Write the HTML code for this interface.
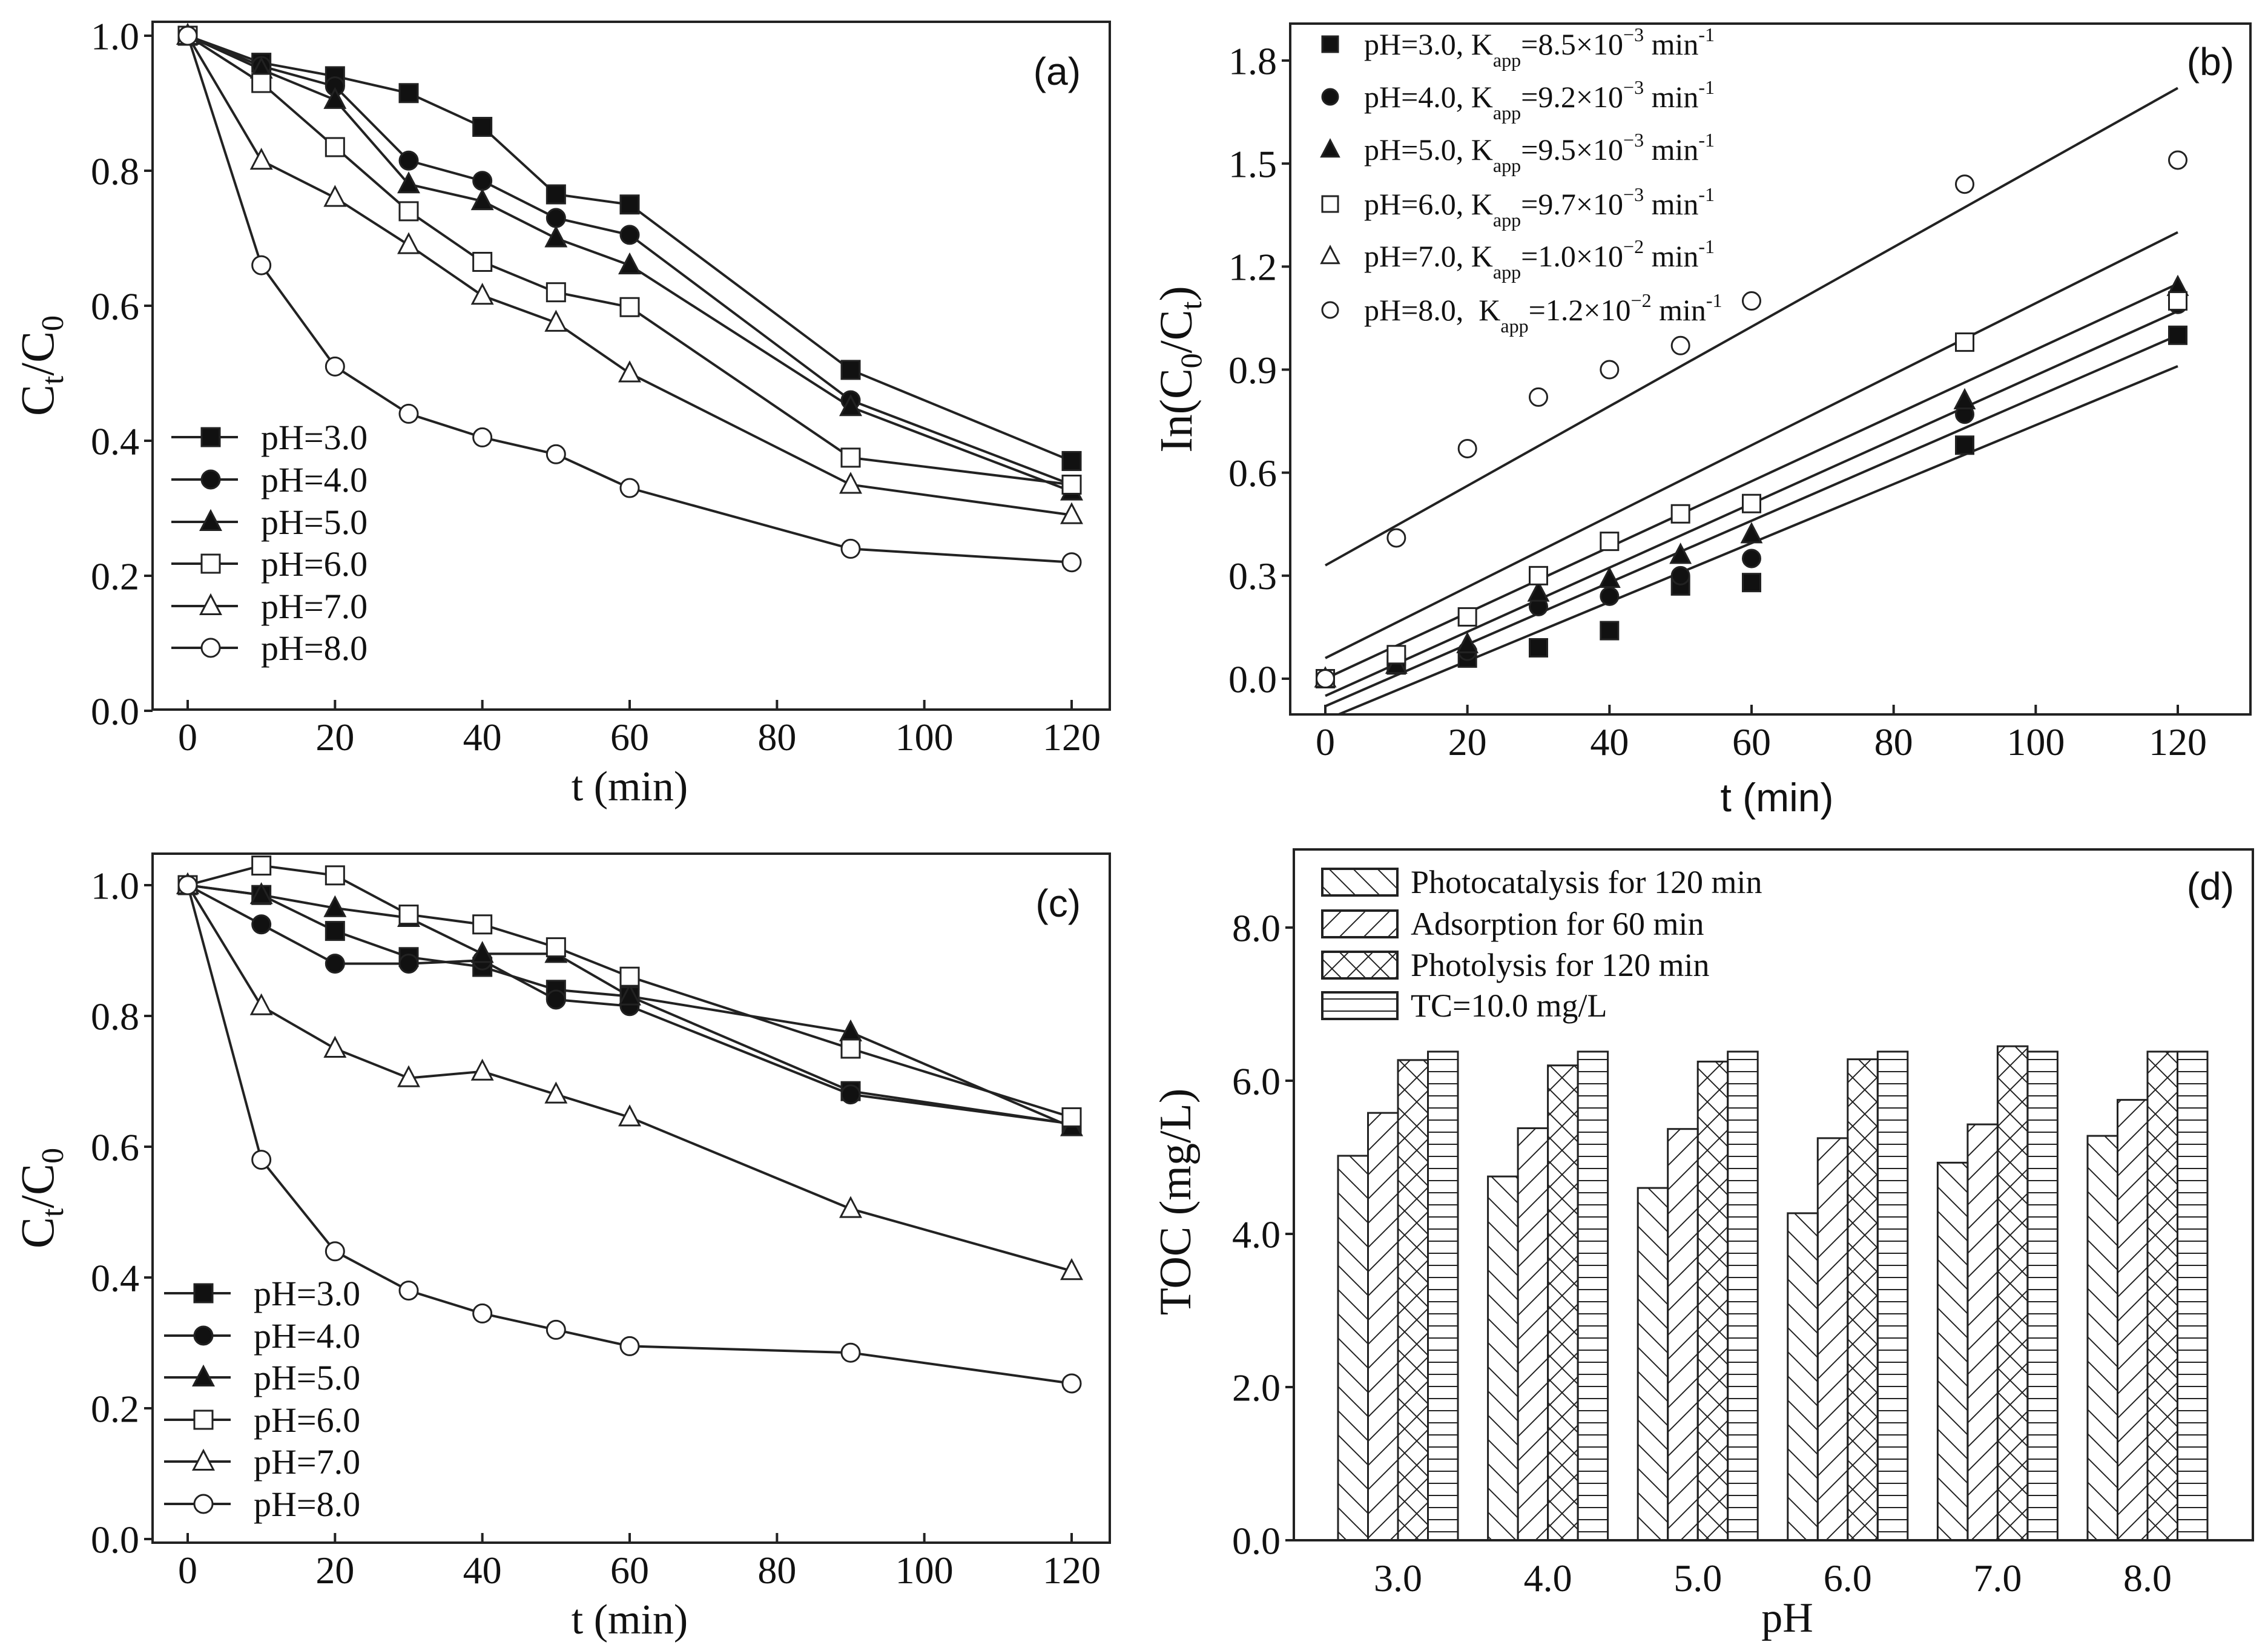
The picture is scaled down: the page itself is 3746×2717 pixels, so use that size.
<!DOCTYPE html>
<html><head><meta charset="utf-8"><style>
html,body{margin:0;padding:0;background:#fff;}
svg{display:block;}
text{font-family:"Liberation Serif",serif;fill:#111;}
.sans{font-family:"Liberation Sans",sans-serif;}
</style></head><body>
<svg id="fig" width="3746" height="2717" viewBox="0 0 3746 2717" xmlns="http://www.w3.org/2000/svg">
<defs>
<pattern id="hBack" patternUnits="userSpaceOnUse" width="40" height="40"><path d="M-10,-10 L50,50 M-10,30 L10,50 M30,-10 L50,10" stroke="#222" stroke-width="2"/></pattern>
<pattern id="hFwd" patternUnits="userSpaceOnUse" width="40" height="40"><path d="M-10,50 L50,-10 M-10,10 L10,-10 M30,50 L50,30" stroke="#222" stroke-width="2"/></pattern>
<pattern id="hCross" patternUnits="userSpaceOnUse" width="40" height="40"><path d="M-10,-10 L50,50 M-10,30 L10,50 M30,-10 L50,10 M-10,50 L50,-10 M-10,10 L10,-10 M30,50 L50,30" stroke="#222" stroke-width="2"/></pattern>
<pattern id="hHor" patternUnits="userSpaceOnUse" width="40" height="20"><path d="M0,10 L40,10" stroke="#222" stroke-width="2"/></pattern>
</defs>
</svg>
<script>
// ---------- data ----------
const times = [0,10,20,30,40,50,60,90,120];
const seriesNames = ["pH=3.0","pH=4.0","pH=5.0","pH=6.0","pH=7.0","pH=8.0"];
const aPH3 = [1,0.96,0.94,0.915,0.865,0.765,0.75,0.505,0.37];
const aPH4 = [1,0.955,0.925,0.815,0.785,0.73,0.705,0.46,0.335];
const aPH5 = [1,0.95,0.905,0.78,0.755,0.70,0.66,0.45,0.325];
const aPH6 = [1,0.93,0.835,0.74,0.665,0.62,0.598,0.375,0.335];
const aPH7 = [1,0.815,0.76,0.69,0.615,0.575,0.50,0.335,0.29];
const aPH8 = [1,0.66,0.51,0.44,0.405,0.38,0.33,0.24,0.22];
const cPH3 = [1,0.985,0.93,0.89,0.875,0.84,0.83,0.685,0.635];
const cPH4 = [1,0.94,0.88,0.88,0.885,0.825,0.815,0.68,0.635];
const cPH5 = [1,0.985,0.965,0.95,0.895,0.895,0.83,0.775,0.63];
const cPH6 = [1,1.03,1.015,0.955,0.94,0.905,0.86,0.75,0.645];
const cPH7 = [1,0.815,0.75,0.705,0.715,0.68,0.645,0.505,0.41];
const cPH8 = [1,0.58,0.44,0.38,0.345,0.32,0.295,0.285,0.238];
const bPH3 = [0,0.04,0.06,0.09,0.14,0.27,0.28,0.68,1.0];
const bPH4 = [0,0.04,0.08,0.21,0.24,0.30,0.35,0.77,1.09];
const bPH5 = [0,0.04,0.10,0.25,0.29,0.36,0.42,0.81,1.14];
const bPH6 = [0,0.07,0.18,0.30,0.40,0.48,0.51,0.98,1.10];
const bPH7 = [0];
const bPH8 = [0,0.41,0.67,0.82,0.90,0.97,1.10,1.44,1.51];
const fitStart = [0.33,0.06,0.0,-0.05,-0.08,-0.12];
const fitEnd = [1.72,1.30,1.15,1.07,1.0,0.91];
const kLabels = ["8.5×10","9.2×10","9.5×10","9.7×10","1.0×10","1.2×10"];
const kExp = ["−3","−3","−3","−3","−2","−2"];
const phCats = ["3.0","4.0","5.0","6.0","7.0","8.0"];
const tocPhotocat = [5.02,4.75,4.60,4.27,4.93,5.28];
const tocAdsorp = [5.58,5.38,5.37,5.25,5.43,5.75];
const tocPhotolysis = [6.27,6.20,6.25,6.28,6.45,6.38];
const tocTC = [6.38,6.38,6.38,6.38,6.38,6.38];
const barNames = ["Photocatalysis for 120 min","Adsorption for 60 min","Photolysis for 120 min","TC=10.0 mg/L"];
const tTicks = [0,20,40,60,80,100,120];
const ctTicks = [0,0.2,0.4,0.6,0.8,1.0];
const lnTicks = [0,0.3,0.6,0.9,1.2,1.5,1.8];
const tocTicks = [0,2,4,6,8];

const svg = document.getElementById('fig');
const NS = 'http://www.w3.org/2000/svg';
function el(tag, attrs, parent){ const e=document.createElementNS(NS,tag); for(const k in attrs) e.setAttribute(k,attrs[k]); (parent||svg).appendChild(e); return e; }
function txt(s, attrs, parent){ const e=el('text',attrs,parent); e.textContent=s; return e; }
function lin(x0,x1,p0,p1){ return v => p0+(v-x0)*(p1-p0)/(x1-x0); }
const shapes = ['square','circle','triangle','square','triangle','circle'];
const fills = ['#111','#111','#111','#fff','#fff','#fff'];
function marker(g, shape, fill, x, y, s){
  let m;
  if(shape==='square') m=el('rect',{x:x-s/2,y:y-s/2,width:s,height:s,fill:fill,stroke:'#222','stroke-width':3},g);
  else if(shape==='circle') m=el('ellipse',{cx:x,cy:y,rx:s/2,ry:s/2,fill:fill,stroke:'#222','stroke-width':3},g);
  else m=el('polygon',{points:`${x},${y-s*0.6} ${x-s*0.55},${y+s*0.45} ${x+s*0.55},${y+s*0.45}`,fill:fill,stroke:'#222','stroke-width':3},g);
  
  
  return m;
}
function frame(g, x0,y0,x1,y1){
  const r=el('rect',{x:x0,y:y0,width:x1-x0,height:y1-y0,fill:'none',stroke:'#222','stroke-width':4},g);
  
  
}
function yAxis(g, ticks, ys, fx, fmt, fs){
  ticks.forEach(v=>{ const y=ys(v);
    el('line',{x1:fx-14,y1:y,x2:fx,y2:y,stroke:'#222','stroke-width':4},g);
    const t=txt(fmt(v),{x:fx-22,y:y+fs*0.35,'text-anchor':'end','font-size':fs},g);
    
    
  });
}
function xAxisT(g, xs, fy, fs){
  tTicks.forEach(v=>{ const x=xs(v);
    el('line',{x1:x,y1:fy,x2:x,y2:fy-16,stroke:'#222','stroke-width':4},g);
    const t=txt(String(v),{x:x,y:fy+fs*1.05,'text-anchor':'middle','font-size':fs},g);
    
    
  });
}

// ---------- line panels (a) and (c) ----------
function linePanel(name, seriesArr, top, bottom, y1v, y0v, label, legendYs, legX){
  const g=el('g',{});  
  const xs=lin(0,120,310,1770), ys=lin(0,1,y0v,y1v);
  frame(g,252,top,1833,bottom);
  yAxis(g,ctTicks,ys,252,v=>v.toFixed(1),64);
  xAxisT(g,xs,bottom,64);
  seriesArr.forEach((vals,i)=>{
    const sg=el('g',{},g);  
    const pts=vals.map((v,j)=>xs(times[j])+','+ys(v)).join(' ');
    const pl=el('polyline',{points:pts,fill:'none',stroke:'#222','stroke-width':4},sg);
     
  });
  seriesArr.forEach((vals,i)=>{
    vals.forEach((v,j)=>marker(g,shapes[i],fills[i],xs(times[j]),ys(v),30)); });
  // legend
  const lg=el('g',{},g);  
  seriesNames.forEach((n,i)=>{ const y=legendYs[i];
    const e=el('g',{},lg);  
    el('line',{x1:legX,y1:y,x2:legX+110,y2:y,stroke:'#222','stroke-width':4},e);
    marker(e,shapes[i],fills[i],legX+65,y,30);
    txt(n,{x:legX+148,y:y+20,'font-size':58},e);
  });
  const pl=txt(label,{x:1785,y:top+104,'text-anchor':'end','font-size':64,class:'sans'},g);
   
  const yt=el('text',{transform:`translate(88,${(top+bottom)/2}) rotate(-90)`,'text-anchor':'middle','font-size':78},g);
  yt.innerHTML='C<tspan dy="16" font-size="52">t</tspan><tspan dy="-16">/C</tspan><tspan dy="16" font-size="52">0</tspan>';
   
  const xt=txt('t (min)',{x:1040,y:bottom+150,'text-anchor':'middle','font-size':70},g);
   
}
linePanel('panel-a',[aPH3,aPH4,aPH5,aPH6,aPH7,aPH8],36,1172,59,1174,'(a)',[722,792,862,931,1001,1070],283);
linePanel('panel-c',[cPH3,cPH4,cPH5,cPH6,cPH7,cPH8],1410,2548,1462,2542,'(c)',[2136,2206,2275,2345,2414,2484],271);

// ---------- panel (b) ----------
(function(){
  const g=el('g',{});  
  const xs=lin(0,120,2189,3597), ys=lin(0,1.8,1121,100);
  const top=39,bottom=1180,left=2131,right=3717;
  el('clipPath',{id:'clipB'},g).appendChild(document.createElementNS(NS,'rect'));
  const cr=g.querySelector('#clipB rect'); cr.setAttribute('x',left); cr.setAttribute('y',top); cr.setAttribute('width',right-left); cr.setAttribute('height',bottom-top);
  frame(g,left,top,right,bottom);
  yAxis(g,lnTicks,ys,left,v=>v.toFixed(1),64);
  xAxisT(g,xs,bottom,64);
  const fg=el('g',{'clip-path':'url(#clipB)'},g);  
  fitStart.forEach((s,i)=>{ const l=el('line',{x1:xs(0),y1:ys(s),x2:xs(120),y2:ys(fitEnd[i]),stroke:'#222','stroke-width':4},fg);
      });
  const pts=[bPH3,bPH4,bPH5,bPH6,bPH7,bPH8];
  pts.forEach((arr,i)=>arr.forEach((v,j)=>marker(g,shapes[i],fills[i],xs(times[j]),ys(v),29)));
  const legYs=[73,160,247,337,423,512];
  const lg=el('g',{},g);  
  seriesNames.forEach((n,i)=>{ const y=legYs[i];
    const e=el('g',{},lg);  
    marker(e,shapes[i],fills[i],2197,y,26);
    const t=el('text',{x:2253,y:y+17,'font-size':50},e);
    t.innerHTML=`${n},${i===5?'&#160; ':' '}K<tspan dy="20" font-size="32">app</tspan><tspan dy="-20">=${kLabels[i]}</tspan><tspan dy="-22" font-size="32">${kExp[i]}</tspan><tspan dy="22"> min</tspan><tspan dy="-22" font-size="32">-1</tspan>`;
  });
  const pl=txt('(b)',{x:3690,y:124,'text-anchor':'end','font-size':64,class:'sans'},g);
   
  const yt=el('text',{transform:'translate(1968,610) rotate(-90)','text-anchor':'middle','font-size':76},g);
  yt.innerHTML='In(C<tspan dy="16" font-size="50">0</tspan><tspan dy="-16">/C</tspan><tspan dy="16" font-size="50">t</tspan><tspan dy="-16">)</tspan>';
   
  const xt=txt('t (min)',{x:2935,y:1340,'text-anchor':'middle','font-size':66,class:'sans'},g);
   
})();

// ---------- panel (d) ----------
(function(){
  const g=el('g',{});  
  const ys=lin(0,8,2544,1532);
  const cx=i=>2309+i*247.6;
  const top=1403,bottom=2544,left=2137,right=3721;
  const bw=49.5;
  const series=[tocPhotocat,tocAdsorp,tocPhotolysis,tocTC];
  const pats=['url(#hBack)','url(#hFwd)','url(#hCross)','url(#hHor)'];
  series.forEach((vals,s)=>{
    vals.forEach((v,i)=>{
      const x=cx(i)-2*bw+s*bw;
      const r=el('rect',{x:x,y:ys(v),width:bw,height:ys(0)-ys(v),fill:pats[s],stroke:'#222','stroke-width':3},g);
      
      
    });
  });
  frame(g,left,top,right,bottom);
  yAxis(g,tocTicks,ys,left,v=>v.toFixed(1),64);
  phCats.forEach((c,i)=>{ const t=txt(c,{x:cx(i),y:bottom+84,'text-anchor':'middle','font-size':64},g);
      });
  const lgYs=[1457,1526,1594,1661];
  const lg=el('g',{},g);  
  barNames.forEach((n,i)=>{ const y=lgYs[i];
    const e=el('g',{},lg);  
    el('rect',{x:2184,y:y-22,width:124,height:44,fill:pats[i],stroke:'#222','stroke-width':4},e);
    txt(n,{x:2330,y:y+18,'font-size':54},e);
  });
  const pl=txt('(d)',{x:3690,y:1486,'text-anchor':'end','font-size':64,class:'sans'},g);
   
  const yt=txt('TOC (mg/L)',{transform:'translate(1966,1985) rotate(-90)','text-anchor':'middle','font-size':74},g);
   
  const xt=txt('pH',{x:2952,y:2695,'text-anchor':'middle','font-size':70},g);
   
})();
</script>
</body></html>
